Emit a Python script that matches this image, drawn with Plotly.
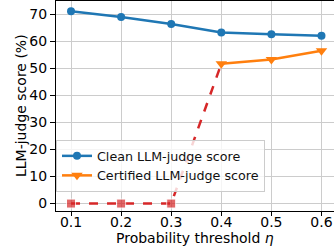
import plotly.graph_objects as go

thresholds = [0.1, 0.2, 0.3, 0.4, 0.5, 0.6]
clean_scores = [71.0, 68.9, 66.3, 63.2, 62.5, 62.0]
cert_x = [0.4, 0.5, 0.6]
cert_scores = [51.6, 53.2, 56.4]
zero_x = [0.1, 0.2, 0.3, 0.4]
zero_scores = [0.0, 0.0, 0.0, 51.6]
zero_marker_sizes = [9, 9, 9, 0]

x_ticks = [0.1, 0.2, 0.3, 0.4, 0.5, 0.6]
y_ticks = [0, 10, 20, 30, 40, 50, 60, 70]

BLUE = "#1f77b4"
ORANGE = "#ff7f0e"
RED = "#d62728"
FONT = "DejaVu Sans"

fig = go.Figure()
fig.add_trace(go.Scatter(
    x=zero_x, y=zero_scores, mode="lines+markers",
    line=dict(color=RED, width=2.5, dash="dash"),
    marker=dict(symbol="square", size=zero_marker_sizes, color=RED),
    showlegend=False,
))
fig.add_trace(go.Scatter(
    x=thresholds, y=clean_scores, mode="lines+markers",
    name="Clean LLM-judge score",
    line=dict(color=BLUE, width=2.5),
    marker=dict(symbol="circle", size=8, color=BLUE),
))
fig.add_trace(go.Scatter(
    x=cert_x, y=cert_scores, mode="lines+markers",
    name="Certified LLM-judge score",
    line=dict(color=ORANGE, width=2.5),
    marker=dict(symbol="triangle-down", size=10, color=ORANGE),
))

fig.update_layout(
    width=334, height=250,
    margin=dict(l=56, r=0, t=1, b=39),
    paper_bgcolor="white", plot_bgcolor="white",
    font=dict(family=FONT, size=14, color="black"),
    legend=dict(
        x=0.0, y=0.09, xanchor="left", yanchor="bottom",
        bgcolor="rgba(255,255,255,0.8)", bordercolor="#cccccc", borderwidth=1,
        font=dict(family=FONT, size=12.7, color="#111"),
        tracegroupgap=0,
    ),
    annotations=[
        dict(text="LLM-judge score (%)", xref="paper", yref="paper",
             x=0, y=0.5, xshift=-35, textangle=-90, showarrow=False,
             xanchor="center", yanchor="middle", font=dict(size=14)),
        dict(text="Probability threshold <i>η</i>", xref="paper", yref="paper",
             x=0.5, y=0, yshift=-27, showarrow=False,
             xanchor="center", yanchor="middle", font=dict(size=14)),
    ],
)
fig.update_xaxes(
    range=[0.07, 0.625], tickvals=x_ticks, ticktext=[f"{v:.1f}" for v in x_ticks],
    showgrid=True, gridcolor="#cccccc", gridwidth=1,
    showline=True, linecolor="black", linewidth=1, mirror=True,
    ticks="outside", ticklen=4, tickcolor="black", zeroline=False,
    ticklabelstandoff=-6,
)
fig.update_yaxes(
    range=[-2.75, 74.8], tickvals=y_ticks,
    showgrid=True, gridcolor="#cccccc", gridwidth=1,
    showline=True, linecolor="black", linewidth=1, mirror=False,
    ticks="outside", ticklen=5, tickcolor="black", zeroline=False,
)

fig.write_html("out.html", config={"displayModeBar": False},
               post_script="document.body.style.margin='0';")
